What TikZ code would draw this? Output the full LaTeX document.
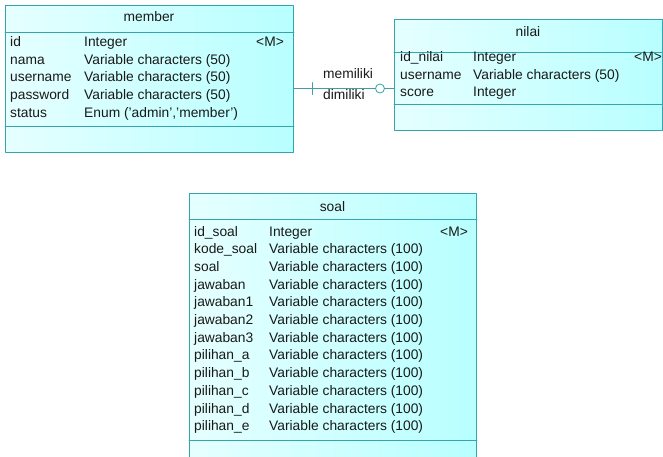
\documentclass[tikz,border=0pt]{standalone}
\usepackage{fontspec}
\setmainfont{Liberation Sans}
\definecolor{erline}{RGB}{52,165,172}
\definecolor{ertext}{RGB}{25,25,25}
\begin{document}
\begin{tikzpicture}[x=1pt,y=-1pt,font=\fontsize{13.8}{16}\selectfont,line join=round, line cap=round]
	\tikzset{tablebox/.style={draw=erline, line width=0.9pt, left color=cyan!10, right color=cyan!28, anchor=north west, inner sep=0pt},
		col/.style={anchor=base west, inner sep=0pt, text=ertext},
		ttl/.style={anchor=base, inner sep=0pt, text=ertext},
		sep/.style={draw=erline, line width=0.9pt}}
	\useasboundingbox (0,0) rectangle (663,457);
	% tabel member
	\node[tablebox, minimum width=288pt, minimum height=147pt] (member) at (5,5) {};
	\draw[sep] (member.west |- 0,32) -- (member.east |- 0,32) (member.west |- 0,126) -- (member.east |- 0,126);
	\node[ttl] (member-title) at (149,21.7) {member};
	\foreach \n/\t [count=\i] in {id/Integer, nama/{Variable characters (50)}, username/{Variable characters (50)}, password/{Variable characters (50)}, status/{Enum ('admin','member')}}{
		\node[col] (member-a\i) at (10,{46.5+(\i-1)*17.7}) {\n};
		\node[col] (member-b\i) at (84,{46.5+(\i-1)*17.7}) {\t};
	}
	\node[col] (member-key) at (256,46.5) {<M>};
	% tabel nilai
	\node[tablebox, minimum width=268pt, minimum height=111pt] (nilai) at (394,19) {};
	\draw[sep] (nilai.west |- 0,52) -- (nilai.east |- 0,52) (nilai.west |- 0,104) -- (nilai.east |- 0,104);
	\node[ttl] (nilai-title) at (528,36.5) {nilai};
	\foreach \n/\t [count=\i] in {id\_nilai/Integer, username/{Variable characters (50)}, score/Integer}{
		\node[col] (nilai-a\i) at (400,{61.5+(\i-1)*17.7}) {\n};
		\node[col] (nilai-b\i) at (473,{61.5+(\i-1)*17.7}) {\t};
	}
	\node[col] (nilai-key) at (634,61.5) {<M>};
	% tabel soal
	\node[tablebox, minimum width=287pt, minimum height=280pt] (soal) at (189,193) {};
	\draw[sep] (soal.west |- 0,219) -- (soal.east |- 0,219) (soal.west |- 0,440) -- (soal.east |- 0,440);
	\node[ttl] (soal-title) at (332.5,211.8) {soal};
	\foreach \n [count=\i] in {id\_soal, kode\_soal, soal, jawaban, jawaban1, jawaban2, jawaban3, pilihan\_a, pilihan\_b, pilihan\_c, pilihan\_d, pilihan\_e}{
		\node[col] (soal-a\i) at (194,{236+(\i-1)*17.7}) {\n};
		\ifnum\i=1
			\node[col] (soal-b\i) at (269,236) {Integer};
		\else
			\node[col] (soal-b\i) at (269,{236+(\i-1)*17.7}) {Variable characters (100)};
		\fi
	}
	\node[col] (soal-key) at (440,236) {<M>};
	% relasi member - nilai
	\coordinate (rel) at (0,88.5);
	\draw[erline!80!gray, line width=0.8pt] (member.east |- rel) -- coordinate[pos=0.18] (tick)
		node[pos=0.86, circle, draw=erline, fill=white, line width=0.8pt, inner sep=0pt, minimum size=9pt] (ring) {} (nilai.west |- rel);
	\draw[erline!80!gray, line width=0.8pt] (tick) ++(0,-6) -- ++(0,12);
	\node[col] (lbl-a) at (323,78.3) {memiliki};
	\node[col] (lbl-b) at (323,100) {dimiliki};
\end{tikzpicture}
\end{document}
